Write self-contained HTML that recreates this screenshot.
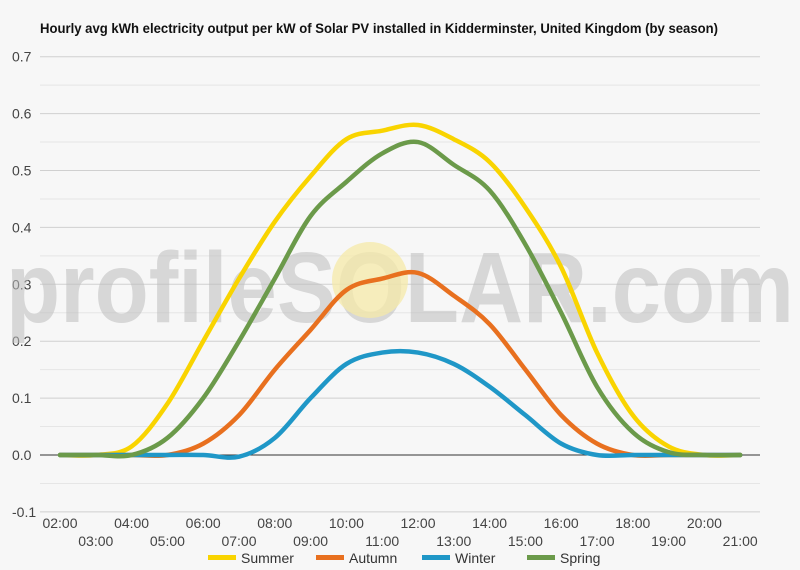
<!DOCTYPE html>
<html><head><meta charset="utf-8"><style>
body{margin:0;background:#f7f7f7;}
svg{display:block;font-family:"Liberation Sans",sans-serif;}
</style></head><body>
<svg id="chart" width="800" height="570">
<rect width="800" height="570" fill="#f7f7f7"/>
<text x="40" y="33" font-size="13.5" font-weight="bold" fill="#111" textLength="678" lengthAdjust="spacingAndGlyphs">Hourly avg kWh electricity output per kW of Solar PV installed in Kidderminster, United Kingdom (by season)</text>
<g id="grid"></g>
<g id="watermark">
<text x="6" y="322" font-size="100" font-weight="bold" fill="#bdbdbd" opacity="0.55" textLength="788" lengthAdjust="spacingAndGlyphs">profileSOLAR.com</text>
<circle cx="370" cy="280" r="38" fill="#f5e9a8" opacity="0.75"/>
</g>
<g id="series"></g>
<g id="xlabels"></g>
<g id="legend"></g>
</svg>
<script>
const hours=[2,3,4,5,6,7,8,9,10,11,12,13,14,15,16,17,18,19,20,21];
const seriesNames=["Summer","Autumn","Winter","Spring"];
const summer=[0,0,0.015,0.09,0.2,0.31,0.41,0.49,0.555,0.57,0.58,0.555,0.515,0.435,0.33,0.18,0.07,0.015,0,0];
const autumn=[0,0,0,0,0.02,0.07,0.15,0.22,0.29,0.31,0.32,0.28,0.23,0.15,0.07,0.02,0,0,0,0];
const winter=[0,0,0,0,0,-0.003,0.03,0.1,0.16,0.18,0.18,0.16,0.12,0.07,0.02,0,0,0,0,0];
const spring=[0,0,0,0.03,0.1,0.2,0.31,0.42,0.48,0.53,0.55,0.51,0.465,0.37,0.25,0.12,0.04,0.005,0,0];
const yTicks=[-0.1,0,0.1,0.2,0.3,0.4,0.5,0.6,0.7];
const colors=["#f9d400","#e8701f","#1f97c7","#6b9a4a"];
const NS="http://www.w3.org/2000/svg";
const x=h=>60+(h-2)*35.8;
const y=v=>455-v*569;
function mk(t,a,p){const e=document.createElementNS(NS,t);for(const k in a)e.setAttribute(k,a[k]);p.appendChild(e);return e;}
const grid=document.getElementById('grid');
for(let i=0;i<yTicks.length;i++){
 const v=yTicks[i];
 const l=mk('line',{x1:40,x2:760,y1:y(v),y2:y(v),stroke:v===0?'#333':'#d0d0d0','stroke-width':1},grid);
 
 
 if(i<yTicks.length-1){const m=mk('line',{x1:40,x2:760,y1:y(v+0.05),y2:y(v+0.05),stroke:'#e6e6e6','stroke-width':1},grid);
 
 }
 const t=mk('text',{x:12,y:y(v)+5,'font-size':14,fill:'#444'},grid);
 
 
 t.textContent=v.toFixed(1);
}
const xl=document.getElementById('xlabels');
hours.forEach((h,i)=>{
 const t=mk('text',{x:x(h),y:i%2===0?528:546,'font-size':14,fill:'#444','text-anchor':'middle'},xl);
 
 
 t.textContent=String(h).padStart(2,'0')+':00';
});
function path(vals){
 const p=vals.map((v,i)=>[x(hours[i]),y(v)]);
 let d='M'+p[0][0]+','+p[0][1];
 for(let i=0;i<p.length-1;i++){
  const p0=p[i-1]||p[i],p1=p[i],p2=p[i+1],p3=p[i+2]||p[i+1];
  const c1=[p1[0]+(p2[0]-p0[0])/6,p1[1]+(p2[1]-p0[1])/6];
  const c2=[p2[0]-(p3[0]-p1[0])/6,p2[1]-(p3[1]-p1[1])/6];
  d+=' C'+c1+' '+c2+' '+p2;
 }
 return d;
}
const sg=document.getElementById('series');
[summer,autumn,winter,spring].forEach((s,i)=>{
 const e=mk('path',{d:path(s),fill:'none',stroke:colors[i],'stroke-width':4.5,'stroke-linejoin':'round','stroke-linecap':'round'},sg);
 
 
});
const lg=document.getElementById('legend');
const lx=[208,316,422,527];
seriesNames.forEach((n,i)=>{
 const g=mk('g',{},lg);
 
 
 mk('rect',{x:lx[i],y:555,width:28,height:5,fill:colors[i]},g);
 const t=mk('text',{x:lx[i]+33,y:563,'font-size':14,fill:'#333'},g);
 t.textContent=n;
});
</script>
</body></html>
